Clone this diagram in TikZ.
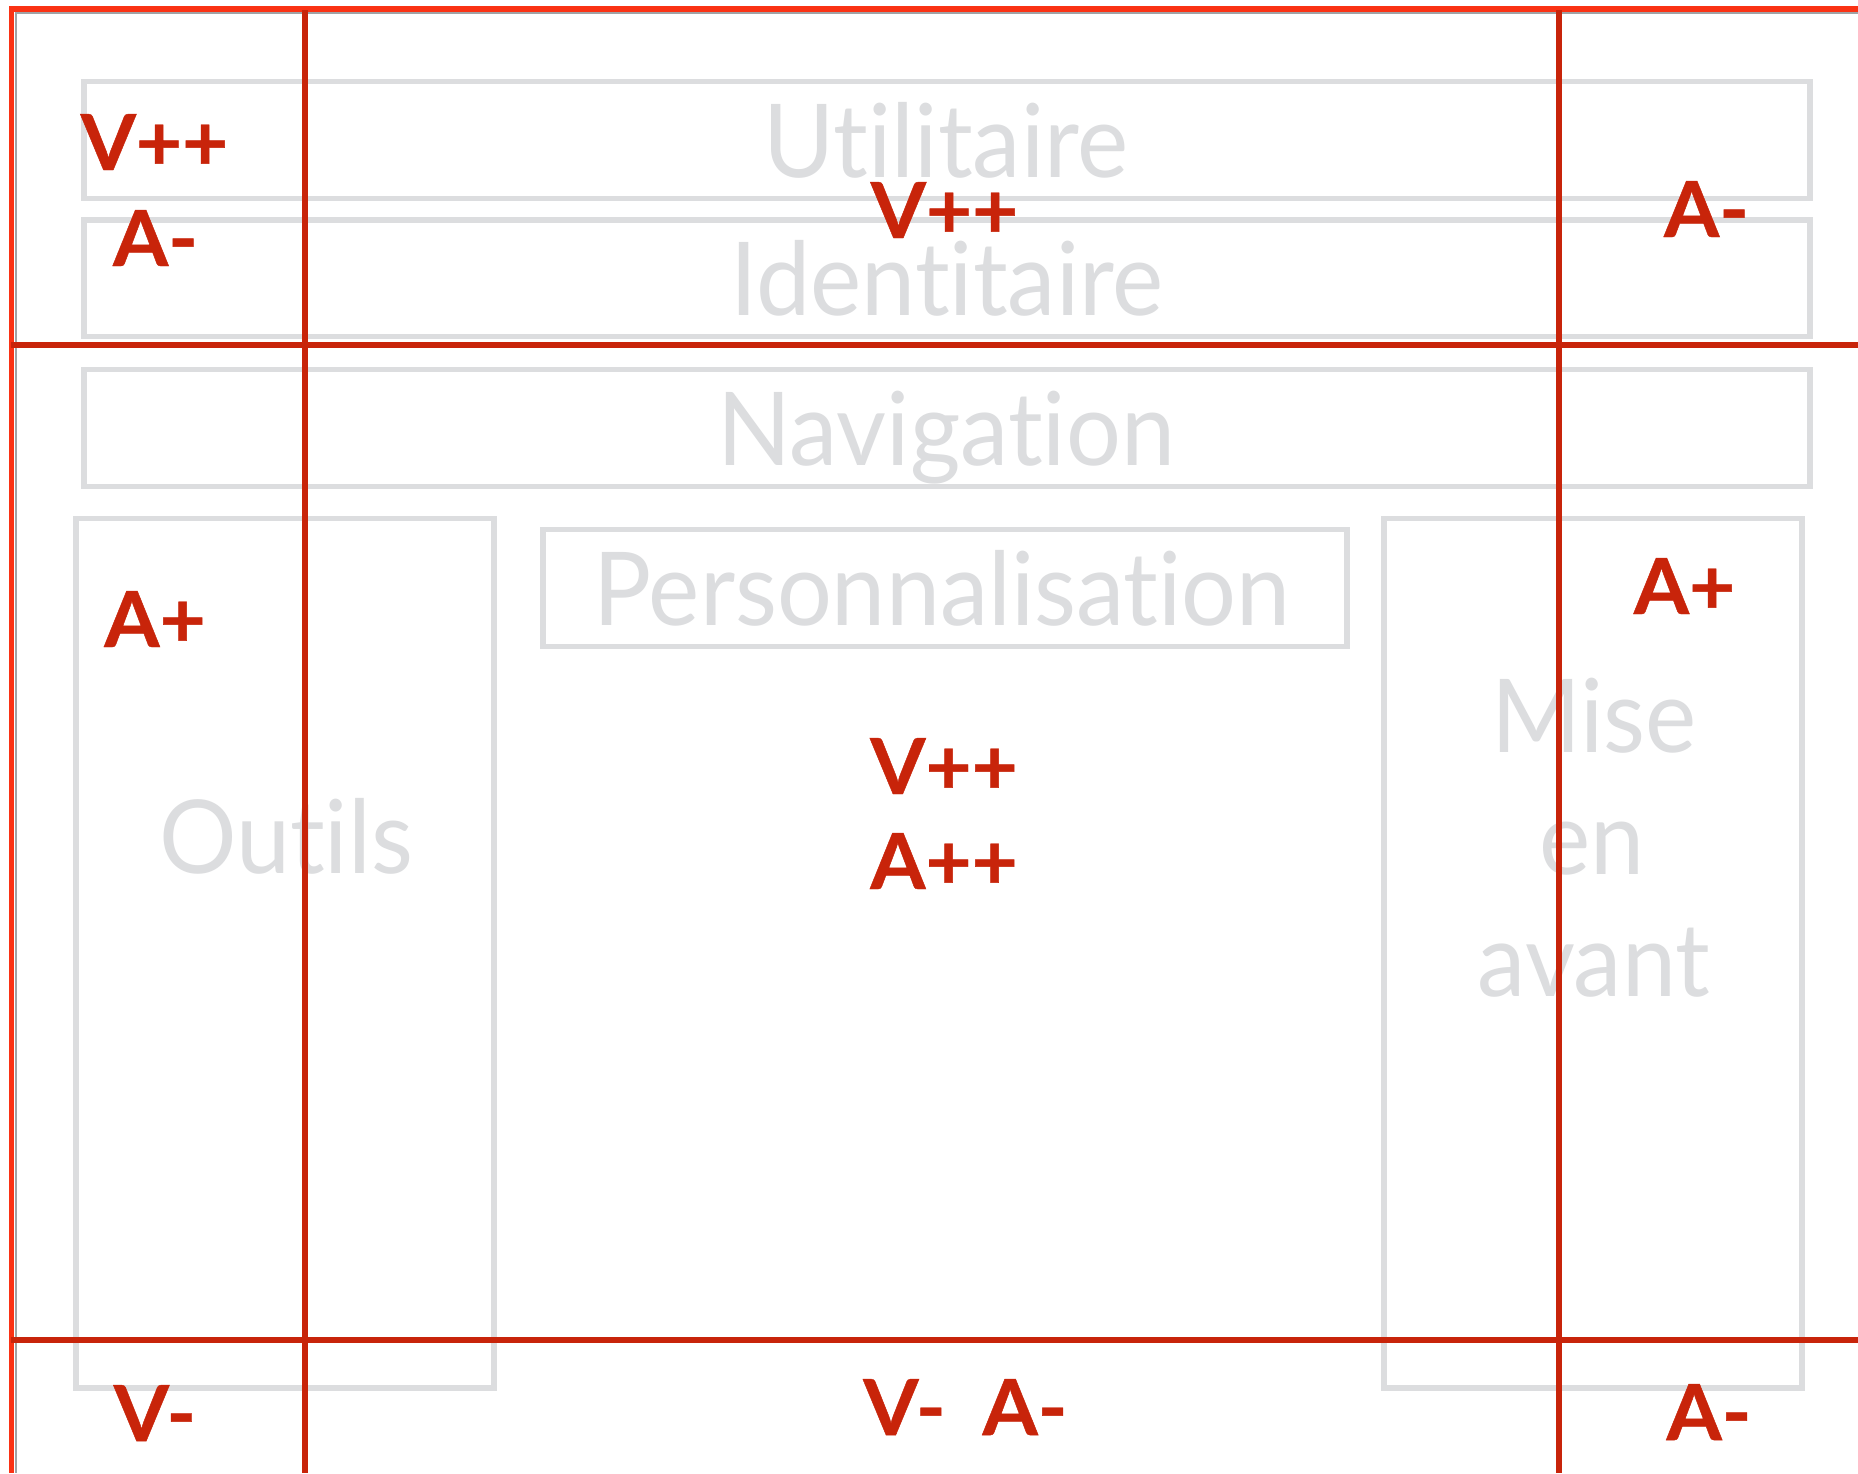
\documentclass[tikz,border=0pt]{standalone}
\usepackage{fontspec}
\setmainfont{Lato}[Ligatures=NoCommon]
\newfontfamily\grayfont{Lato}[Ligatures=NoCommon,FakeStretch=0.95]
\newfontfamily\redfont{Lato}[Ligatures=NoCommon,FakeStretch=1.03,FakeBold=0.6]
\definecolor{boxgray}{RGB}{220,221,223}
\definecolor{lred}{RGB}{200,36,10}
\definecolor{fred}{RGB}{250,50,20}
\definecolor{fgray}{RGB}{160,162,165}
\begin{document}
\begin{tikzpicture}[x=0.5pt,y=-0.5pt,
  zone/.style={draw=boxgray,line width=2.6pt},
  ztext/.style={text=boxgray,font=\grayfont\fontsize{51}{61}\selectfont,inner sep=0pt,anchor=base},
  score/.style={text=lred,font=\redfont\bfseries\fontsize{38.6}{46}\selectfont,inner sep=0pt,anchor=base},
  gridline/.style={draw=lred,line width=2.6pt},
  frameline/.style={draw=fred,line width=2.6pt},
  frameshadow/.style={draw=fgray,line width=1.2pt},
]
\useasboundingbox (0,0) rectangle (1858,1473);
\fill[white] (0,0) rectangle (1858,1473);

% gray zones
\draw[zone] (84,81.5) rectangle (1810,198.5);
\draw[zone] (84,220) rectangle (1810,336.5);
\draw[zone] (84,369.5) rectangle (1810,486.5);
\draw[zone] (76,518.5) rectangle (494,1388);
\draw[zone] (543,529.5) rectangle (1347,646.5);
\draw[zone] (1384,518.5) rectangle (1802,1388);

% gray labels
\node[ztext] (util) at (946,177) {Utilitaire};
\node[ztext] (ident) at (947,315) {Identitaire};
\node[ztext] (navig) at (946,465) {Navigation};
\node[ztext] (perso) at (942,625) {Personnalisation};
\node[ztext] (outils) at (286,873) {Outils};
\node[ztext] (mise) at (1594,752) {Mise};
\node[ztext] (en) at (1592,874) {en};
\node[ztext] (avant) at (1594,996) {avant};

% outer frame
\draw[frameshadow] (1858,13) -- (16,13) -- (16,1473);
\draw[frameline] (1858,9) -- (11.5,9) -- (11.5,1473);

% red grid
\draw[gridline] (305,10) -- (305,1473);
\draw[gridline] (1559,10) -- (1559,1473);
\draw[gridline] (11,345) -- (1858,345);
\draw[gridline] (11,1340) -- (1858,1340);

% red scores
\node[score] (s1) at (154.5,170) {V++};
\node[score] (s2) at (155.5,266) {A-};
\node[score] (s3) at (944.5,238) {V++};
\node[score] (s4) at (1706.5,237) {A-};
\node[score] (s5) at (155,647) {A+};
\node[score] (s6) at (1684.5,614) {A+};
\node[score] (s7) at (944,794) {V++};
\node[score] (s8) at (944,889) {A++};
\node[score] (s9) at (155,1441) {V-};
\node[score] (s10) at (904.5,1435) {V-};
\node[score] (s11) at (1025,1435) {A-};
\node[score] (s12) at (1709,1440) {A-};
\end{tikzpicture}
\end{document}
